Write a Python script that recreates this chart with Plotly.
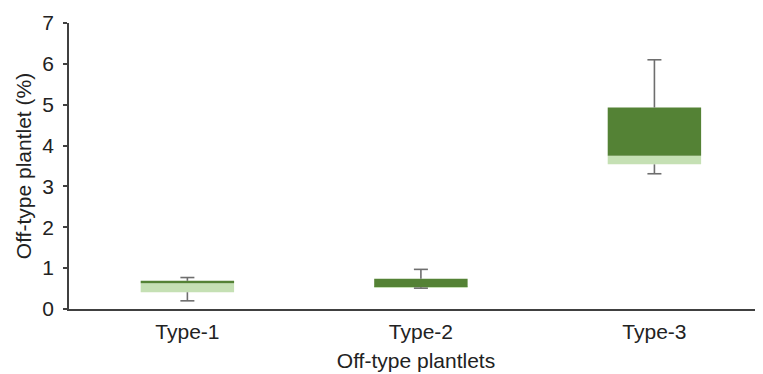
import plotly.graph_objects as go

categories = ["Type-1", "Type-2", "Type-3"]
q1 = [0.41, 0.53, 3.54]
median = [0.63, 0.54, 3.75]
q3 = [0.69, 0.74, 4.93]
whisker_max = [0.77, 0.97, 6.10]
whisker_min = [0.20, 0.51, 3.31]

y_ticks = [0, 1, 2, 3, 4, 5, 6, 7]

DARK = "#548235"
LIGHT = "#C5E0B4"
WHISK = "#6E6E6E"
AXIS = "#404040"
FONT = "Liberation Sans, Arial, sans-serif"
FS = 21

lower_h = [m - a for m, a in zip(median, q1)]
upper_h = [b - m for b, m in zip(q3, median)]

fig = go.Figure()
fig.add_trace(go.Bar(x=categories, y=lower_h, base=q1, marker=dict(color=LIGHT, line=dict(width=0)),
                     width=0.4, showlegend=False, hoverinfo="skip"))
fig.add_trace(go.Bar(x=categories, y=upper_h, base=median, marker=dict(color=DARK, line=dict(width=0)),
                     width=0.4, showlegend=False, hoverinfo="skip"))

# whisker stems
wx, wy = [], []
for c, a, mn, b, mx in zip(categories, q1, whisker_min, q3, whisker_max):
    wx += [c, c, None, c, c, None]
    wy += [b, mx, None, a, mn, None]
fig.add_trace(go.Scatter(x=wx, y=wy, mode="lines", line=dict(color=WHISK, width=1.6),
                         showlegend=False, hoverinfo="skip", connectgaps=False))
# whisker caps
fig.add_trace(go.Scatter(x=categories + categories, y=whisker_max + whisker_min, mode="markers",
                         marker=dict(symbol="line-ew", size=10, line=dict(color=WHISK, width=1.6)),
                         showlegend=False, hoverinfo="skip"))

fig.update_layout(
    width=755, height=366,
    margin=dict(l=61, r=0, t=15, b=65),
    plot_bgcolor="white", paper_bgcolor="white",
    barmode="overlay",
    font=dict(family=FONT, size=FS, color="#222222"),
    xaxis=dict(
        type="category", range=[-0.507, 2.465], automargin=False,
        showline=True, linecolor=AXIS, linewidth=1.5,
        ticks="", showgrid=False, zeroline=False,
        ticklabelstandoff=3,
        title=dict(text="Off-type plantlets", standoff=11, font=dict(size=FS)),
        tickfont=dict(size=FS),
    ),
    yaxis=dict(
        range=[0, 7], tickvals=y_ticks, automargin=False,
        showline=True, linecolor=AXIS, linewidth=1.5,
        ticks="outside", ticklen=4, tickcolor=AXIS, tickwidth=1.5,
        ticklabelstandoff=5,
        showgrid=False, zeroline=False,
        title=dict(text="Off-type plantlet (%)", standoff=5, font=dict(size=FS)),
        tickfont=dict(size=FS),
    ),
)

fig.write_html("out.html")
